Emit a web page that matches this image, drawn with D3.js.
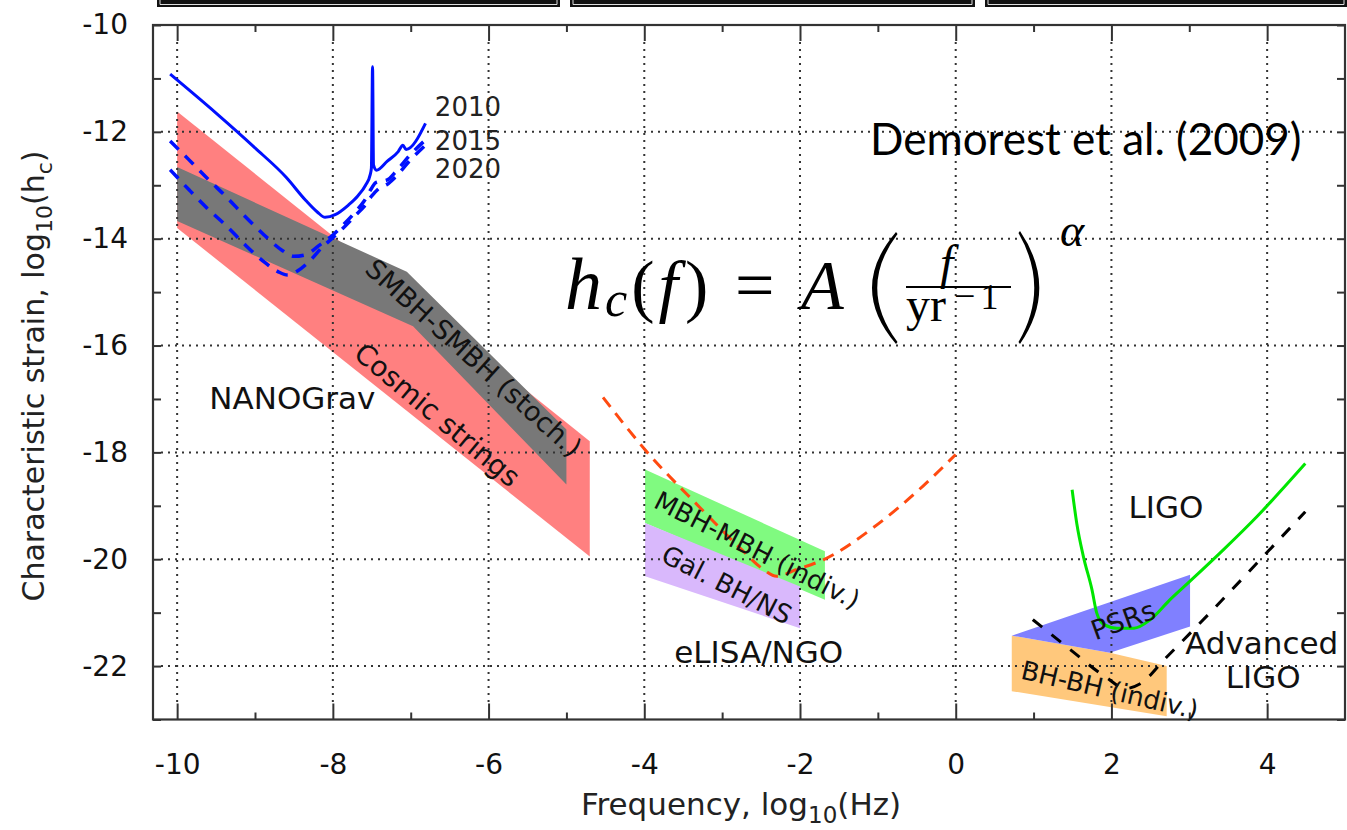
<!DOCTYPE html>
<html>
<head>
<meta charset="utf-8">
<script src="https://cdn.jsdelivr.net/npm/d3@7"></script>
<style>
  html, body { margin: 0; padding: 0; background: #fff; }
  svg { display: block; }
</style>
</head>
<body>
<svg id="chart" width="1347" height="830" font-family="DejaVu Sans, sans-serif"></svg>
<script>
// ---- axis ticks -------------------------------------------------------
const xMajorTicks = [-10, -8, -6, -4, -2, 0, 2, 4];
const xMinorTicks = [-9, -7, -5, -3, -1, 1, 3];
const yAllTicks = [-10, -11, -12, -13, -14, -15, -16, -17, -18, -19, -20, -21, -22, -23];
const yLabelTicks = [-10, -12, -14, -16, -18, -20, -22];
const xGridValues = [-10, -8, -6, -4, -2, 0, 2, 4];
const yGridValues = [-12, -14, -16, -18, -20, -22];

// ---- detector sensitivity curves: [log10 f (Hz), log10 h_c] -----------
const nanograv2010 = [
  [-10.09, -10.92], [-9.5, -11.65], [-9.0, -12.3], [-8.6, -12.85], [-8.35, -13.28],
  [-8.2, -13.5], [-8.1, -13.6], [-7.97, -13.55], [-7.8, -13.37], [-7.68, -13.2],
  [-7.58, -13.0], [-7.52, -12.8], [-7.505, -12.68], [-7.49, -10.78], [-7.478, -12.62],
  [-7.44, -12.72], [-7.3, -12.55], [-7.16, -12.37], [-7.1, -12.25], [-7.06, -12.33],
  [-6.81, -11.84]
];
const nanograv2015 = [
  [-10.09, -12.17], [-9.85, -12.52], [-9.6, -12.89], [-9.36, -13.23], [-9.13, -13.58],
  [-8.89, -13.92], [-8.65, -14.22], [-8.5, -14.33], [-8.35, -14.3], [-8.18, -14.13],
  [-8.0, -13.93], [-7.88, -13.76], [-7.7, -13.48], [-7.6, -13.3], [-7.5, -13.05],
  [-7.45, -12.95], [-7.3, -12.9], [-7.2, -12.76], [-7.0, -12.42], [-6.81, -12.15]
];
const nanograv2020 = [
  [-10.09, -12.71], [-9.85, -13.08], [-9.6, -13.45], [-9.36, -13.77], [-9.13, -14.11],
  [-8.87, -14.45], [-8.7, -14.62], [-8.58, -14.68], [-8.45, -14.6], [-8.3, -14.42],
  [-8.15, -14.18], [-8.0, -13.98], [-7.88, -13.82], [-7.7, -13.55], [-7.6, -13.4],
  [-7.5, -13.2], [-7.4, -13.05], [-7.3, -12.98], [-7.2, -12.85], [-7.0, -12.52],
  [-6.81, -12.25]
];
const elisaCurve = [
  [-4.53, -16.97], [-3.99, -17.95], [-3.28, -19.04], [-2.77, -19.79], [-2.47, -20.19],
  [-2.3, -20.32], [-2.04, -20.19], [-1.7, -20.01], [-1.06, -19.41], [-0.42, -18.63],
  [0.0, -18.04]
];
const ligoCurve = [
  [1.495, -18.7], [1.555, -19.33], [1.64, -19.95], [1.75, -20.57], [1.81, -21.0],
  [1.9, -21.22], [2.07, -21.29], [2.29, -21.29], [2.5, -21.13], [2.75, -20.76],
  [3.01, -20.41], [3.44, -19.82], [3.87, -19.2], [4.49, -18.21]
];
const advLigoCurve = [
  [0.99, -21.13], [1.47, -21.69], [1.94, -22.22], [2.18, -22.42], [2.37, -22.33],
  [2.69, -21.86], [3.28, -20.98], [3.91, -20.01], [4.49, -19.11]
];

// ---- source regions (polygons) ---------------------------------------
const cosmicStrings = [[-10, -11.62], [-4.7, -17.79], [-4.7, -19.95], [-10, -13.8]];
const smbhStoch = [[-10, -12.66], [-7.05, -14.62], [-5, -17.57], [-5, -18.6], [-6.97, -15.64], [-10, -13.67]];
const mbhIndiv = [[-3.99, -18.32], [-1.68, -19.85], [-1.68, -20.76], [-3.99, -19.32]];
const galBhNs = [[-3.99, -19.32], [-2.0, -20.51], [-2.0, -21.29], [-3.99, -20.32]];
const psrs = [[0.72, -21.43], [3.01, -20.29], [3.01, -21.26], [1.98, -21.75]];
const bhbhIndiv = [[0.72, -21.43], [1.98, -21.75], [2.71, -22.0], [2.71, -22.94], [0.72, -22.47]];

// ---- layout ------------------------------------------------------------
const svg = d3.select("#chart");
const W = 1347, H = 830;
const plot = { left: 153, right: 1345, top: 25, bottom: 719.5 };

svg.append("rect").attr("width", W).attr("height", H).attr("fill", "#fff");

// slide frame strips along the top edge
const strips = [[157, 403], [570, 405], [985, 362]];
strips.forEach(([sx, sw]) => {
  svg.append("rect").attr("x", sx).attr("y", 0).attr("width", sw).attr("height", 7).attr("fill", "#111");
  svg.append("path")
    .attr("d", `M${sx + 3},0 V4.5 H${sx + sw - 3} V0`)
    .attr("fill", "none").attr("stroke", "#ddd").attr("stroke-width", 1);
});

const x = d3.scaleLinear().domain([-10.31, 5]).range([plot.left, plot.right]);
const y = d3.scaleLinear().domain([-23, -10]).range([plot.bottom, plot.top]);

// ---- filled regions -----------------------------------------------------
const poly = pts => "M" + pts.map(p => `${x(p[0])},${y(p[1])}`).join("L") + "Z";
const regions = [
  [cosmicStrings, "#ff8080"],
  [smbhStoch, "#787878"],
  [mbhIndiv, "#80fa80"],
  [galBhNs, "#d9b8fc"],
  [bhbhIndiv, "#ffc87c"],
  [psrs, "#8080ff"]
];
regions.forEach(([pts, col]) => {
  svg.append("path").attr("d", poly(pts)).attr("fill", col);
});

// ---- dotted grid --------------------------------------------------------
const grid = svg.append("g")
  .attr("stroke", "#333").attr("stroke-width", 2).attr("stroke-dasharray", "2 5");
xGridValues.forEach(v => {
  grid.append("line").attr("x1", x(v)).attr("x2", x(v))
    .attr("y1", plot.top + 17).attr("y2", plot.bottom - 17);
});
yGridValues.forEach(v => {
  grid.append("line").attr("y1", y(v)).attr("y2", y(v))
    .attr("x1", plot.left + 8).attr("x2", plot.right - 8);
});

// ---- curves -------------------------------------------------------------
const line = d3.line().x(d => x(d[0])).y(d => y(d[1])).curve(d3.curveMonotoneX);
const curves = [
  [elisaCurve, "#ff4a10", 3, "12 8"],
  [advLigoCurve, "#000", 3, "12 12"],
  [ligoCurve, "#00e600", 3, null],
  [nanograv2020, "#0010ff", 3.5, "12 9"],
  [nanograv2015, "#0010ff", 3.5, "12 9"],
  [nanograv2010, "#0010ff", 3, null]
];
curves.forEach(([pts, col, w, dash]) => {
  const p = svg.append("path").attr("d", line(pts))
    .attr("fill", "none").attr("stroke", col).attr("stroke-width", w)
    .attr("stroke-linejoin", "round");
  if (dash) p.attr("stroke-dasharray", dash);
});

// ---- axes ----------------------------------------------------------------
const fmt = d => String(d);
function styleAxis(g) {
  g.attr("font-family", null).attr("font-size", null);
  g.select(".domain").remove();
  g.selectAll(".tick line").attr("stroke", "#333").attr("stroke-width", 2);
  g.selectAll(".tick text").attr("fill", "#111").attr("font-size", 28);
}
svg.append("g").attr("transform", `translate(0,${plot.bottom})`)
  .call(d3.axisBottom(x).tickValues(xMajorTicks).tickSize(-16).tickPadding(35).tickFormat(fmt))
  .call(styleAxis);
svg.append("g").attr("transform", `translate(0,${plot.bottom})`)
  .call(d3.axisBottom(x).tickValues(xMinorTicks).tickSize(-7).tickFormat(""))
  .call(styleAxis);
svg.append("g").attr("transform", `translate(0,${plot.top})`)
  .call(d3.axisTop(x).tickValues(xMajorTicks).tickSize(-16).tickFormat(""))
  .call(styleAxis);
svg.append("g").attr("transform", `translate(0,${plot.top})`)
  .call(d3.axisTop(x).tickValues(xMinorTicks).tickSize(-7).tickFormat(""))
  .call(styleAxis);
svg.append("g").attr("transform", `translate(${plot.left},0)`)
  .call(d3.axisLeft(y).tickValues(yAllTicks).tickSize(-8).tickPadding(25)
    .tickFormat(d => yLabelTicks.includes(d) ? fmt(d) : ""))
  .call(styleAxis);
svg.append("g").attr("transform", `translate(${plot.right},0)`)
  .call(d3.axisRight(y).tickValues(yAllTicks).tickSize(-8).tickFormat(""))
  .call(styleAxis);

// frame
svg.append("rect")
  .attr("x", plot.left).attr("y", plot.top)
  .attr("width", plot.right - plot.left).attr("height", plot.bottom - plot.top)
  .attr("fill", "none").attr("stroke", "#333").attr("stroke-width", 2.2);

// axis titles
const xt = svg.append("text").attr("x", 741).attr("y", 815)
  .attr("text-anchor", "middle").attr("font-size", 31).attr("fill", "#222");
xt.append("tspan").text("Frequency, log");
xt.append("tspan").attr("dy", 8).attr("font-size", 23).text("10");
xt.append("tspan").attr("dy", -8).text("(Hz)");

const yt = svg.append("text").attr("transform", "translate(44,376) rotate(-90)")
  .attr("text-anchor", "middle").attr("font-size", 30).attr("fill", "#222");
yt.append("tspan").text("Characteristic strain, log");
yt.append("tspan").attr("dy", 8).attr("font-size", 22).text("10");
yt.append("tspan").attr("dy", -8).text("(h");
yt.append("tspan").attr("dy", 8).attr("font-size", 22).text("c");
yt.append("tspan").attr("dy", -8).text(")");

// ---- region / detector labels ----------------------------------------------
const labels = [
  { t: "NANOGrav", at: [-8.52, -16.99], size: 31, rot: 0 },
  { t: "Cosmic strings", at: [-6.66, -17.3], size: 28, rot: 40 },
  { t: "SMBH-SMBH (stoch.)", at: [-6.19, -16.23], size: 27, rot: 42 },
  { t: "MBH-MBH (indiv.)", at: [-2.55, -19.83], size: 26, rot: 27 },
  { t: "Gal. BH/NS", at: [-2.94, -20.48], size: 26, rot: 27 },
  { t: "eLISA/NGO", at: [-2.53, -21.73], size: 31, rot: 0 },
  { t: "LIGO", at: [2.70, -19.02], size: 31, rot: 0 },
  { t: "Advanced", at: [3.93, -21.56], size: 31, rot: 0 },
  { t: "LIGO", at: [3.95, -22.21], size: 31, rot: 0 },
  { t: "PSRs", at: [2.15, -21.14], size: 27, rot: -20 },
  { t: "BH-BH (indiv.)", at: [1.98, -22.45], size: 26, rot: 13 }
];
labels.forEach(l => {
  svg.append("text")
    .attr("transform", `translate(${x(l.at[0])},${y(l.at[1])}) rotate(${l.rot})`)
    .attr("text-anchor", "middle").attr("dominant-baseline", "central")
    .attr("font-size", l.size).attr("fill", "#111").text(l.t);
});

// year labels for the pulsar-timing curves
const years = [["2010", -11.71], ["2015", -12.34], ["2020", -12.86]];
years.forEach(([t, v]) => {
  svg.append("text").attr("x", x(-6.69)).attr("y", y(v))
    .attr("font-size", 26).attr("fill", "#222").text(t);
});

// citation
svg.append("text").attr("x", x(-1.10)).attr("y", y(-12.43))
  .attr("font-family", "Lato, sans-serif").attr("font-size", 44).attr("fill", "#000")
  .text("Demorest et al. (2009)");

// ---- spectrum formula: h_c(f) = A (f / yr^-1)^alpha ------------------------------
const fx = svg.append("g").attr("font-family", "Liberation Serif, serif").attr("fill", "#000");
const lhs = fx.append("text").attr("x", 565).attr("y", 309).attr("font-size", 70);
lhs.append("tspan").attr("font-style", "italic").attr("font-size", 74).text("h");
lhs.append("tspan").attr("font-style", "italic").attr("font-size", 50).attr("dx", 3).attr("dy", 7).text("c");
lhs.append("tspan").attr("dx", 4).attr("dy", -7).text("(");
lhs.append("tspan").attr("font-style", "italic").attr("dx", 4).text("f");
lhs.append("tspan").attr("dx", 7).text(")");
fx.append("text").attr("x", 735).attr("y", 309).attr("font-size", 70).text("=");
fx.append("text").attr("x", 801).attr("y", 309).attr("font-size", 70).attr("font-style", "italic").text("A");
fx.append("path").attr("d", "M896,232 Q848,288 896,344 L897.5,342 Q857,288 897.5,234 Z");
fx.append("line").attr("x1", 906).attr("x2", 1011).attr("y1", 287).attr("y2", 287)
  .attr("stroke", "#000").attr("stroke-width", 2.2);
// numerator and denominator share one text element
const frac = fx.append("text").attr("font-size", 48);
frac.append("tspan").attr("x", 940).attr("y", 279).attr("font-style", "italic").text("f");
frac.append("tspan").attr("x", 906).attr("y", 321).text("yr");
frac.append("tspan").attr("font-size", 38).attr("dx", 8).attr("dy", -12).text("\u2212");
frac.append("tspan").attr("font-size", 36).attr("dx", 5).text("1");
fx.append("path").attr("d", "M1020,231 Q1058.6,288 1020,344 L1018.5,342 Q1050,288 1018.5,233 Z");
fx.append("text").attr("x", 1060).attr("y", 246).attr("font-size", 46).attr("font-style", "italic").text("\u03b1");
</script>
</body>
</html>
